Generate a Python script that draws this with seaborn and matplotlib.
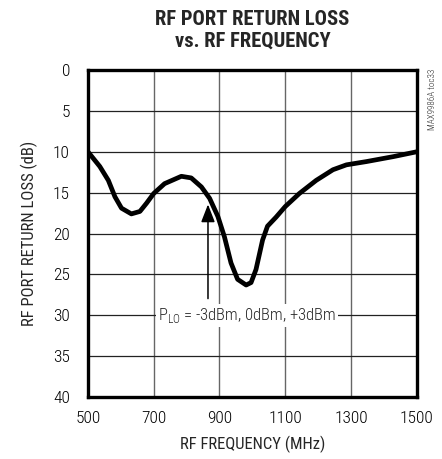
import numpy as np
import pandas as pd
import matplotlib
matplotlib.use("Agg")
import matplotlib.pyplot as plt
import seaborn as sns
from matplotlib import font_manager

# data
freq_mhz = [500, 536, 562, 582, 602, 632, 658, 678, 700, 733, 784, 814, 845,
            870, 895, 915, 935, 955, 981, 996, 1011, 1031, 1046, 1072, 1100,
            1143, 1194, 1245, 1286, 1347, 1428, 1500]
return_loss_db = [10.0, 11.8, 13.5, 15.5, 16.9, 17.6, 17.3, 16.3, 15.1, 13.9,
                  13.0, 13.2, 14.3, 15.7, 17.9, 20.4, 23.6, 25.6, 26.3, 26.0,
                  24.4, 20.8, 19.1, 18.0, 16.7, 15.1, 13.5, 12.2, 11.6, 11.2,
                  10.6, 10.0]
x_ticks = [500, 700, 900, 1100, 1300, 1500]
y_ticks = [0, 5, 10, 15, 20, 25, 30, 35, 40]

df = pd.DataFrame({"freq": freq_mhz, "rl": return_loss_db})

sns.set_theme(style="white")
names = {f.name for f in font_manager.fontManager.ttflist}
narrow = "Liberation Sans"
for cand in ["Roboto Condensed", "Archivo Narrow", "Liberation Sans Narrow",
             "Asap Condensed"]:
    if cand in names:
        narrow = cand
        break
plt.rcParams["font.family"] = [narrow, "DejaVu Sans"]
plt.rcParams["font.weight"] = "light"

fig = plt.figure(figsize=(4.42, 4.59), dpi=100)
ax = fig.add_axes([0.199, 0.135, 0.744, 0.7125])

sns.lineplot(data=df, x="freq", y="rl", ax=ax, color="black", lw=3.4,
             solid_joinstyle="round", solid_capstyle="round", zorder=5)

ax.set_xlim(500, 1500)
ax.set_ylim(40, 0)
ax.set_xticks(x_ticks)
ax.set_yticks(y_ticks)
ax.tick_params(length=0, labelsize=12.5, colors="black")
ax.tick_params(axis="x", pad=10)
ax.tick_params(axis="y", pad=13)
ax.grid(True, axis="x", color="#666666", lw=1.0)
ax.grid(True, axis="y", color="#222222", lw=0.9)
for s in ax.spines.values():
    s.set_color("black")
    s.set_linewidth(2.4)

ax.set_xlabel("RF FREQUENCY (MHz)", fontsize=12, labelpad=7)
ax.set_ylabel("RF PORT RETURN LOSS (dB)", fontsize=12, labelpad=11)

fig.text(0.571, 0.978, "RF PORT RETURN LOSS\nvs. RF FREQUENCY", ha="center",
         va="top", fontsize=14.8, fontweight="heavy", linespacing=1.15)

# annotation arrow + label
ax.annotate("", xy=(865, 16.1), xytext=(865, 28.3),
            arrowprops=dict(arrowstyle="-|>,head_length=0.9,head_width=0.35",
                            color="black", lw=1.1), zorder=6)
ax.text(983, 30, r"P$_{\mathregular{LO}}$ = -3dBm, 0dBm, +3dBm", ha="center",
        va="center", fontsize=12, zorder=7,
        bbox=dict(facecolor="white", edgecolor="none", pad=1.5))

fig.text(0.978, 0.85, "MAX9986A toc33", rotation=90, ha="center", va="top",
         fontsize=6.5)

fig.savefig("out.png", dpi=100)
